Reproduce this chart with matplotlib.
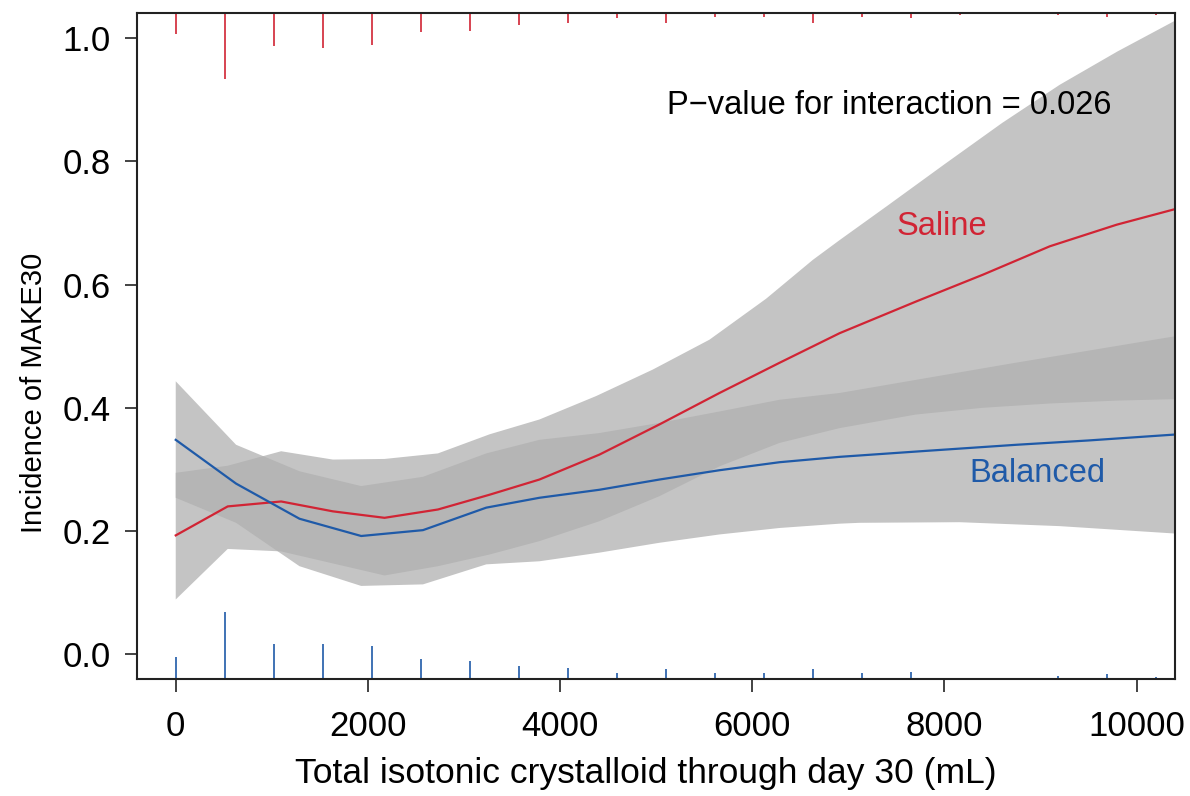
import matplotlib
matplotlib.use("Agg")
import matplotlib.pyplot as plt
import numpy as np

plt.rcParams['font.family'] = ['Liberation Sans', 'DejaVu Sans']

red = '#D12434'
blue = '#1F5AA8'

# Saline (red) curve and confidence band
saline_x = [0, 541, 1097, 1635, 2173, 2729, 3267, 3785, 4409, 5034, 5659, 6284, 6909, 7708, 8402, 9097, 9792, 10400]
saline_y = [0.193, 0.240, 0.248, 0.232, 0.2215, 0.235, 0.259, 0.2836, 0.324, 0.373, 0.424, 0.473, 0.521, 0.5726, 0.616, 0.662, 0.697, 0.7223]
saline_up_x = [0, 541, 1097, 1635, 2173, 2729, 3267, 3785, 4375, 4965, 5555, 6145, 6631, 6909, 7400, 8000, 8600, 9200, 9800, 10400]
saline_up_y = [0.2945, 0.306, 0.3295, 0.316, 0.317, 0.326, 0.357, 0.381, 0.419, 0.462, 0.5105, 0.577, 0.640, 0.672, 0.727, 0.795, 0.862, 0.924, 0.978, 1.028]
saline_lo_x = [0, 541, 1097, 1635, 2173, 2729, 3267, 3785, 4409, 5034, 5659, 6284, 6909, 7700, 8400, 9100, 9800, 10400]
saline_lo_y = [0.089, 0.171, 0.167, 0.1475, 0.128, 0.143, 0.162, 0.1837, 0.216, 0.2566, 0.305, 0.343, 0.367, 0.389, 0.400, 0.407, 0.4117, 0.414]

# Balanced (blue) curve and confidence band
balanced_x = [0, 628, 1288, 1930, 2573, 3232, 3785, 4409, 5034, 5659, 6284, 6909, 7800, 8750, 9500, 10400]
balanced_y = [0.348, 0.277, 0.220, 0.192, 0.2015, 0.238, 0.254, 0.267, 0.2836, 0.2987, 0.3117, 0.3204, 0.330, 0.340, 0.347, 0.3566]
balanced_up_x = [0, 628, 1288, 1930, 2573, 3232, 3785, 4409, 5034, 5659, 6284, 6909, 8700, 10400]
balanced_up_y = [0.443, 0.340, 0.297, 0.273, 0.288, 0.326, 0.348, 0.359, 0.3755, 0.394, 0.413, 0.424, 0.472, 0.516]
balanced_lo_x = [0, 628, 1288, 1930, 2573, 3232, 3785, 4409, 5034, 5659, 6284, 6909, 7117, 8159, 9201, 10400]
balanced_lo_y = [0.254, 0.2134, 0.143, 0.111, 0.1135, 0.146, 0.151, 0.165, 0.181, 0.1945, 0.205, 0.212, 0.2134, 0.2144, 0.208, 0.196]

# rug marks (heights in y units)
rug_x = [0, 510, 1020, 1530, 2040, 2550, 3060, 3570, 4080, 4590, 5100,
         5610, 6120, 6630, 7140, 7650, 8160, 8670, 9180, 9690, 10200]
rug_saline = [0.034, 0.107, 0.053, 0.057, 0.052, 0.031, 0.028, 0.019, 0.016, 0.007, 0.015,
              0.0065, 0.0065, 0.015, 0.0065, 0.008, 0.002, 0.0, 0.003, 0.0065, 0.003]
rug_balanced = [0.036, 0.109, 0.057, 0.057, 0.053, 0.032, 0.029, 0.021, 0.018, 0.010, 0.016,
                0.009, 0.009, 0.016, 0.009, 0.011, 0.002, 0.0, 0.005, 0.008, 0.003]

xlim = (-400, 10400)
ylim = (-0.04, 1.04)

fig = plt.figure(figsize=(11.9, 7.96), dpi=100)
ax = fig.add_axes([137.3 / 1190, 1 - 679 / 796, (1175 - 137.3) / 1190, (679 - 13.3) / 796])

band_kw = dict(color='#b0b0b0', alpha=0.745, lw=0)
ax.fill(np.concatenate([saline_up_x, saline_lo_x[::-1]]),
        np.concatenate([saline_up_y, saline_lo_y[::-1]]), **band_kw)
ax.fill(np.concatenate([balanced_up_x, balanced_lo_x[::-1]]),
        np.concatenate([balanced_up_y, balanced_lo_y[::-1]]), **band_kw)

ax.plot(saline_x, saline_y, color=red, lw=1.6)
ax.plot(balanced_x, balanced_y, color=blue, lw=1.6)

rx = np.array(rug_x)
ax.vlines(rx, ylim[1] - np.array(rug_saline), ylim[1], color=red, lw=1.2)
ax.vlines(rx, ylim[0], ylim[0] + np.array(rug_balanced), color=blue, lw=1.2)

ax.text(7430, 0.876, 'P\u2212value for interaction = 0.026', fontsize=23.5, ha='center', va='baseline')
ax.text(7973, 0.681, 'Saline', color=red, fontsize=23.5, ha='center', va='baseline')
ax.text(8967, 0.2804, 'Balanced', color=blue, fontsize=23.5, ha='center', va='baseline')

ax.set_xlim(xlim)
ax.set_ylim(ylim)
ax.set_xticks([0, 2000, 4000, 6000, 8000, 10000])
ax.set_yticks([0.0, 0.2, 0.4, 0.6, 0.8, 1.0])
ax.set_yticklabels(['0.0', '0.2', '0.4', '0.6', '0.8', '1.0'])
ax.tick_params(axis='both', length=9, width=1.2, labelsize=25, color='#222222')
ax.tick_params(axis='x', pad=13)
ax.tick_params(axis='y', pad=10)
for s in ax.spines.values():
    s.set_linewidth(1.5)
    s.set_color('#222222')

ax.set_xlabel('Total isotonic crystalloid through day 30 (mL)', fontsize=25.5)
ax.set_ylabel('Incidence of MAKE30', fontsize=21)
ax.xaxis.set_label_coords(0.49, -0.117)
ax.yaxis.set_label_coords(-0.086, 0.43)

fig.savefig('out.png', dpi=100)
